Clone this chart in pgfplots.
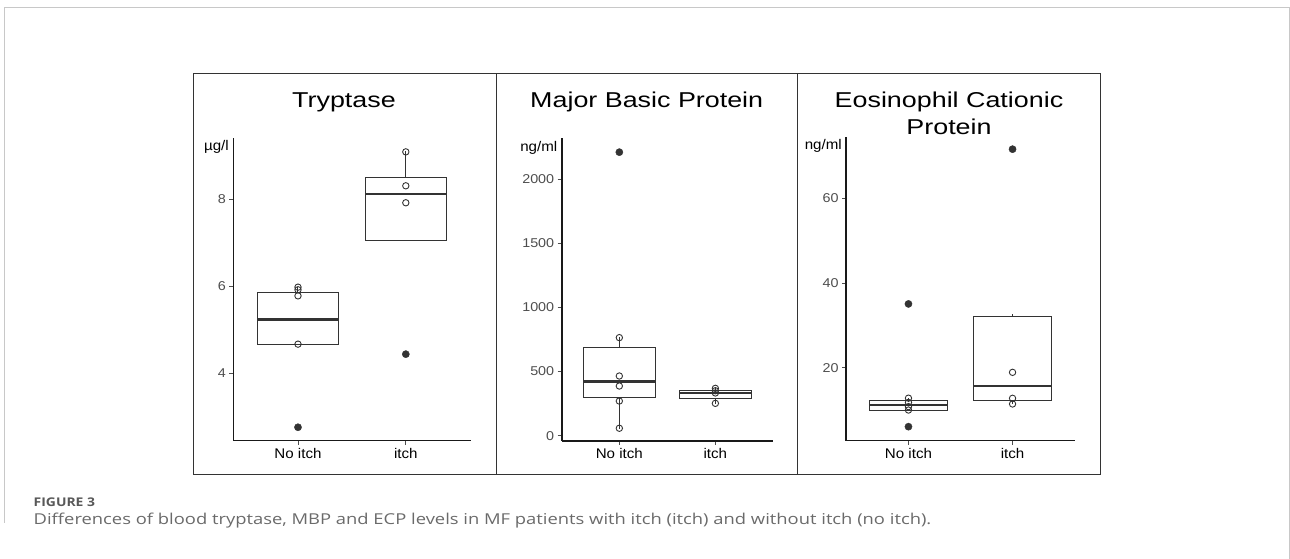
\documentclass[border=0pt]{standalone}
\usepackage{fontspec}
\setmainfont{Liberation Sans}
\newfontfamily\titlefont[FakeStretch=1.25]{Liberation Sans}
\newfontfamily\tickfont[FakeStretch=1.12]{Liberation Sans}
\newfontfamily\unitfont[FakeStretch=1.08]{Liberation Sans}
\newfontfamily\capfont[FakeStretch=1.225]{Open Sans}
\newfontfamily\capheadfont[FakeStretch=1.16]{Open Sans}
\usepackage{pgfplots}
\pgfplotsset{compat=1.18}
\definecolor{framegray}{HTML}{333333}
\definecolor{ticklab}{HTML}{4D4D4D}
\definecolor{dotfill}{HTML}{333333}
\definecolor{outerc}{HTML}{C8C8C8}
\definecolor{capgray}{HTML}{6A6A6A}
\definecolor{capgrayd}{HTML}{585858}
\pgfplotsset{
 panel/.style={scale only axis, anchor=south west, xmin=0.4, xmax=2.6,
   xtick={1,2}, xticklabels={No itch,itch},
   axis x line*=bottom, axis y line*=left,
   axis line style={line width=1.6pt,-,black!90},
   tick align=outside, major tick length=4pt,
   tick style={line width=0.9pt, ticklab},
   yticklabel style={font=\tickfont\fontsize{12.8}{13}\selectfont, text=ticklab},
   xticklabel style={font=\unitfont\fontsize{14}{14}\selectfont, text=black},
   /pgf/number format/assume math mode=true,
   /pgf/number format/1000 sep={},
   scaled y ticks=false,
   clip=false, enlargelimits=false},
 boxln/.style={draw=framegray, line width=1pt, mark=none, solid, line join=miter, line cap=rect},
 medln/.style={draw=framegray, line width=2.4pt, mark=none, solid},
 openpt/.style={only marks, mark=o, mark size=3.2pt,
   mark options={line width=0.9pt, draw=framegray, fill=white}},
 fillpt/.style={only marks, mark=*, mark size=3.6pt,
   mark options={draw=dotfill, fill=dotfill}},
}
\begin{document}
\begin{tikzpicture}
\begin{scope}[x=1pt,y=1pt]
\path[use as bounding box] (0,0) rectangle (1290,559);
% outer frame
\draw[outerc, line width=1pt] (4,36) -- (4,551) -- (1289,551) -- (1289,0);
% chart frame
\draw[framegray, line width=1pt] (193,485) rectangle (1100,84);
\draw[framegray, line width=1pt] (496,485) -- (496,84);
\draw[framegray, line width=1pt] (797,485) -- (797,84);
\end{scope}

% Panel 1: Tryptase
\begin{axis}[panel, at={(233.3pt,118.3pt)}, width=237.2pt, height=302.7pt,
  ymin=2.451, ymax=9.409, ytick={4,6,8}]
% No itch: lw 4.67, lq 4.67, med 5.24, uq 5.855, uw 5.98
\addplot[boxln] coordinates {(0.625,4.67) (1.375,4.67) (1.375,5.855) (0.625,5.855) (0.625,4.67)};
\addplot[boxln] coordinates {(1,5.855) (1,5.98)};
\addplot[medln] coordinates {(0.625,5.24) (1.375,5.24)};
% itch: lw 7.05, lq 7.05, med 8.12, uq 8.51, uw 9.09
\addplot[boxln] coordinates {(1.625,7.05) (2.375,7.05) (2.375,8.51) (1.625,8.51) (1.625,7.05)};
\addplot[boxln] coordinates {(2,8.51) (2,9.09)};
\addplot[medln] coordinates {(1.625,8.12) (2.375,8.12)};
\addplot[openpt] coordinates {(1,5.98) (1,5.92) (1,5.78) (1,4.67) (2,9.09) (2,8.31) (2,7.92)};
\addplot[fillpt] coordinates {(1,2.76) (2,4.44)};
\end{axis}

% Panel 2: MBP
\begin{axis}[panel, at={(561.7pt,118pt)}, width=211.3pt, height=303pt,
  ymin=-41.3, ymax=2319.5, ytick={0,500,1000,1500,2000}]
% No itch: lw 58, lq 296, med 421, uq 689, uw 764
\addplot[boxln] coordinates {(0.625,296) (1.375,296) (1.375,689) (0.625,689) (0.625,296)};
\addplot[boxln] coordinates {(1,689) (1,764)};
\addplot[boxln] coordinates {(1,58) (1,296)};
\addplot[medln] coordinates {(0.625,421) (1.375,421)};
% itch: lw 252, lq 291, med 333, uq 350, uw 369
\addplot[boxln] coordinates {(1.625,291) (2.375,291) (2.375,350) (1.625,350) (1.625,291)};
\addplot[boxln] coordinates {(2,350) (2,369)};
\addplot[boxln] coordinates {(2,252) (2,291)};
\addplot[medln] coordinates {(1.625,333) (2.375,333)};
\addplot[openpt] coordinates {(1,764) (1,465) (1,387) (1,270) (1,58) (2,369) (2,350) (2,333) (2,252)};
\addplot[fillpt] coordinates {(1,2209)};
\end{axis}

% Panel 3: ECP
\begin{axis}[panel, at={(846pt,118.3pt)}, width=229pt, height=304pt,
  ymin=2.76, ymax=74.55, ytick={20,40,60}]
% No itch: lw 10.0, lq 10.0, med 11.2, uq 12.37, uw 12.8
\addplot[boxln] coordinates {(0.625,10.0) (1.375,10.0) (1.375,12.37) (0.625,12.37) (0.625,10.0)};
\addplot[boxln] coordinates {(1,12.37) (1,12.8)};
\addplot[medln] coordinates {(0.625,11.2) (1.375,11.2)};
% itch: lw 11.43, lq 12.37, med 15.68, uq 32.2, uw 32.4
\addplot[boxln] coordinates {(1.625,12.37) (2.375,12.37) (2.375,32.2) (1.625,32.2) (1.625,12.37)};
\addplot[boxln] coordinates {(2,32.2) (2,32.5)};
\addplot[boxln] coordinates {(2,11.43) (2,12.37)};
\addplot[medln] coordinates {(1.625,15.68) (2.375,15.68)};
\addplot[openpt] coordinates {(1,12.8) (1,11.8) (1,10.8) (1,10.0) (2,18.9) (2,12.77) (2,11.43)};
\addplot[fillpt] coordinates {(1,35.06) (1,6.07) (2,71.6)};
\end{axis}

\begin{scope}[x=1pt,y=1pt]
% titles
\node[anchor=base, inner sep=0pt, font=\titlefont\fontsize{21.5}{24}\selectfont] at (344,451.2) {Tryptase};
\node[anchor=base, inner sep=0pt, font=\titlefont\fontsize{21.5}{24}\selectfont] at (646.7,451.2) {Major Basic Protein};
\node[anchor=base, inner sep=0pt, font=\titlefont\fontsize{21.5}{24}\selectfont] at (949,451.7) {Eosinophil Cationic};
\node[anchor=base, inner sep=0pt, font=\titlefont\fontsize{21.5}{24}\selectfont] at (949,424) {Protein};
% units
\node[anchor=base east, inner sep=0pt, font=\unitfont\fontsize{14}{14}\selectfont] at (229,408.3) {µg/l};
\node[anchor=base east, inner sep=0pt, font=\unitfont\fontsize{14}{14}\selectfont] at (557.5,407.3) {ng/ml};
\node[anchor=base east, inner sep=0pt, font=\unitfont\fontsize{14}{14}\selectfont] at (842,409.7) {ng/ml};
% caption
\node[anchor=base west, inner sep=0pt, text=capgrayd, font=\capheadfont\bfseries\fontsize{12}{12}\selectfont] at (33.5,52.3) {FIGURE 3};
\node[anchor=base west, inner sep=0pt, text=capgray, font=\capfont\fontsize{15}{16}\selectfont] at (33.5,34) {Differences of blood tryptase, MBP and ECP levels in MF patients with itch (itch) and without itch (no itch).};
\end{scope}
\end{tikzpicture}
\end{document}
